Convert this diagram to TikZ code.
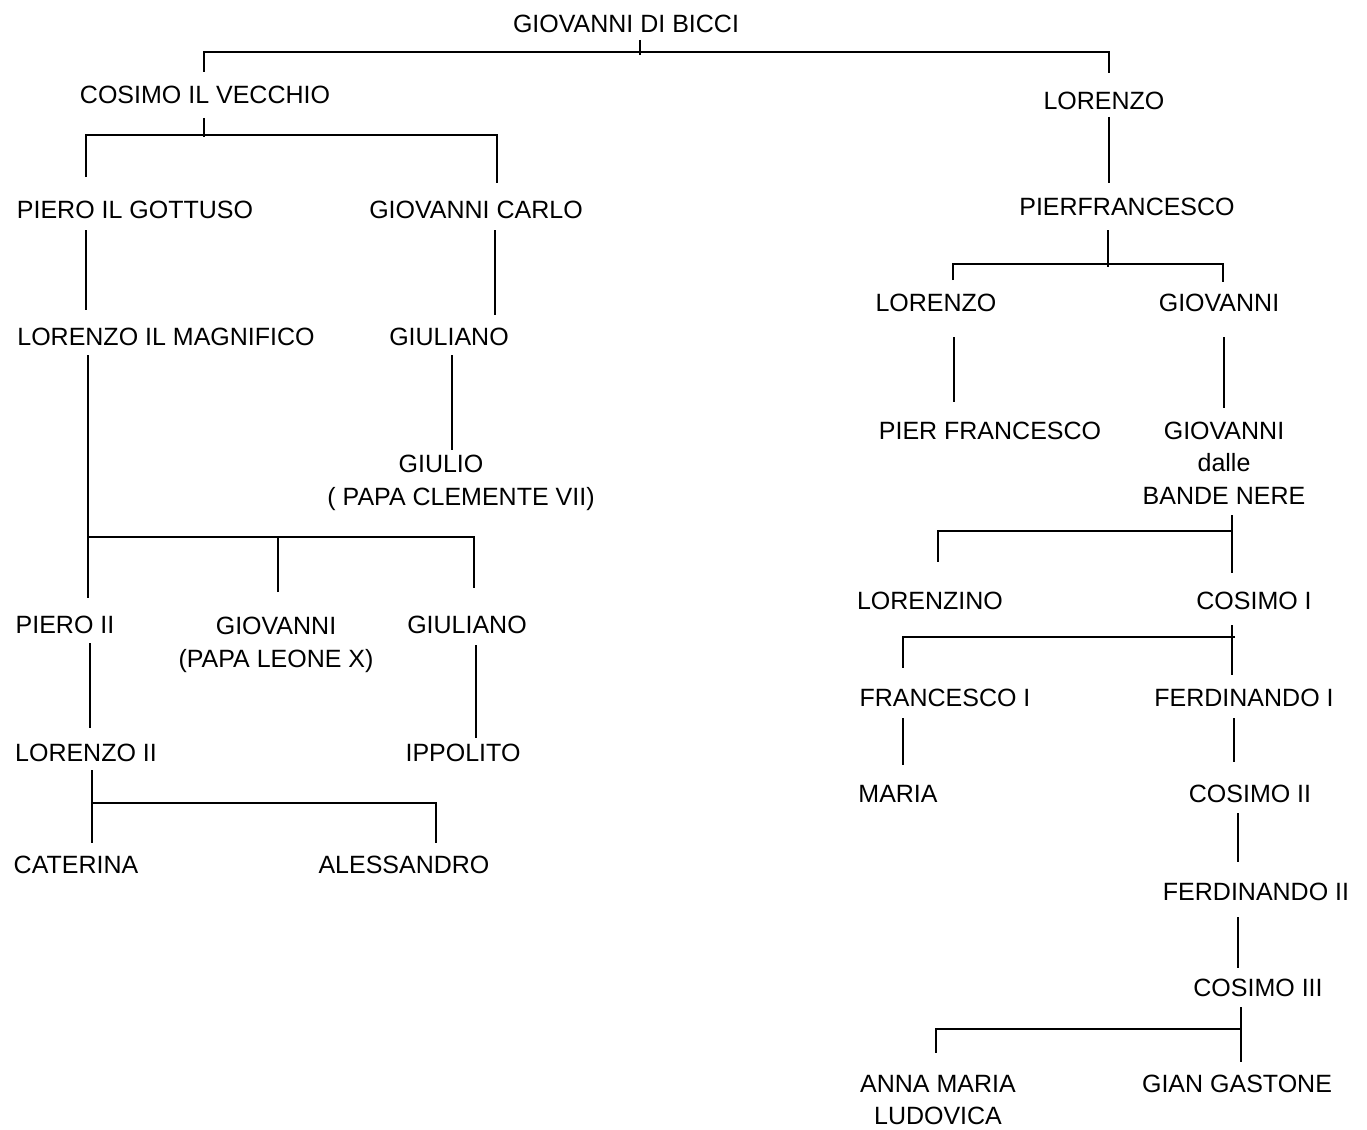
\documentclass[tikz,border=0pt]{standalone}
\usepackage{fontspec}
\setmainfont{Liberation Sans}
\begin{document}
\begin{tikzpicture}[x=1pt,y=-1pt,
  tx/.style={inner sep=0pt, text height=18pt, text depth=0pt, font=\fontsize{25}{33}\selectfont},
  ml/.style={inner sep=0pt, align=center, font=\fontsize{25}{32.5}\selectfont},
  ln/.style={line width=1.6pt}]
\path[use as bounding box, fill=white] (0,0) rectangle (1367,1129);

% left branch
\node[tx] (gdb) at (626,24) {GIOVANNI DI BICCI};
\node[tx] (cv) at (205,95) {COSIMO IL VECCHIO};
\node[tx] (lor1) at (1104,101) {LORENZO};
\node[tx] (pg) at (135,209) {PIERO IL GOTTUSO};
\node[tx] (gc) at (476,209) {GIOVANNI CARLO};
\node[tx] (lm) at (166,336) {LORENZO IL MAGNIFICO};
\node[tx] (giu1) at (449,336) {GIULIANO};
\node[ml] (giulio) at (461,483) {GIULIO\hspace*{40pt}\\( PAPA CLEMENTE VII)};
\node[tx] (p2) at (65,624) {PIERO II};
\node[ml] (leo) at (276,645) {GIOVANNI\\(PAPA LEONE X)};
\node[tx] (giu2) at (467,624) {GIULIANO};
\node[tx] (l2) at (86,752) {LORENZO II};
\node[tx] (ipp) at (463,752) {IPPOLITO};
\node[tx] (cat) at (76,864) {CATERINA};
\node[tx] (ale) at (404,864) {ALESSANDRO};

% right branch
\node[tx] (pf) at (1127,206) {PIERFRANCESCO};
\node[tx] (lor2) at (936,302) {LORENZO};
\node[tx] (gio1) at (1219,302) {GIOVANNI};
\node[tx] (pfr) at (990,430) {PIER FRANCESCO};
\node[ml] (gio2) at (1224,463) {GIOVANNI\\dalle\\BANDE NERE};
\node[tx] (lzn) at (930,600) {LORENZINO};
\node[tx] (cos1) at (1254,600) {COSIMO I};
\node[tx] (fra) at (945,697) {FRANCESCO I};
\node[tx] (fer1) at (1244,697) {FERDINANDO I};
\node[tx] (mar) at (898,793) {MARIA};
\node[tx] (cos2) at (1250,793) {COSIMO II};
\node[tx] (fer2) at (1256,891) {FERDINANDO II};
\node[tx] (cos3) at (1258,987) {COSIMO III};
\node[ml] (anna) at (938,1100) {ANNA MARIA\\LUDOVICA};
\node[tx] (gian) at (1237,1083) {GIAN GASTONE};

% junction points on the bars
\coordinate (bgdb) at (640,52);
\coordinate (bcv) at (204,135);
\coordinate (blm) at (88,537);
\coordinate (bleo) at (278,537);
\coordinate (bl2) at (92,803);
\coordinate (bpf) at (1108,264);
\coordinate (bbn) at (1232,531);
\coordinate (bc1) at (1235,637);
\coordinate (bc3) at (1241,1029);

% connectors
\draw[ln] ([shift={(14,16)}]gdb.center) -- ([shift={(0,3)}]bgdb);
\draw[ln] ([shift={(-1,-23)}]cv.center) |- (bgdb) -| ([shift={(5,-28)}]lor1.center);

\draw[ln] ([shift={(-1,23)}]cv.center) -- ([shift={(0,2)}]bcv);
\draw[ln] ([shift={(-49,-32)}]pg.center) |- (bcv) -| ([shift={(21,-26)}]gc.center);

\draw[ln] ([shift={(-49,21)}]pg.center) -- ([shift={(-80,-26)}]lm.center);
\draw[ln] ([shift={(19,21)}]gc.center) -- ([shift={(46,-21)}]giu1.center);
\draw[ln] ([shift={(3,19)}]giu1.center) -- ([shift={(-9,-33)}]giulio.center);

\draw[ln] ([shift={(-78,19)}]lm.center) -- ([shift={(23,-26)}]p2.center);
\draw[ln] (blm) -| ([shift={(7,-36)}]giu2.center);
\draw[ln] ([shift={(2,-53)}]leo.center) -- (bleo);

\draw[ln] ([shift={(25,19)}]p2.center) -- ([shift={(4,-24)}]l2.center);
\draw[ln] ([shift={(9,21)}]giu2.center) -- ([shift={(13,-14)}]ipp.center);

\draw[ln] ([shift={(6,18)}]l2.center) -- ([shift={(16,-21)}]cat.center);
\draw[ln] (bl2) -| ([shift={(32,-21)}]ale.center);

\draw[ln] ([shift={(5,16)}]lor1.center) -- ([shift={(-18,-23)}]pf.center);
\draw[ln] ([shift={(-19,24)}]pf.center) -- ([shift={(0,3)}]bpf);
\draw[ln] ([shift={(17,-22)}]lor2.center) |- (bpf) -| ([shift={(4,-20)}]gio1.center);

\draw[ln] ([shift={(18,35)}]lor2.center) -- ([shift={(-36,-28)}]pfr.center);
\draw[ln] ([shift={(5,35)}]gio1.center) -- ([shift={(0,-55)}]gio2.center);

\draw[ln] ([shift={(8,52)}]gio2.center) -- ([shift={(-22,-27)}]cos1.center);
\draw[ln] (bbn) -| ([shift={(8,-38)}]lzn.center);

\draw[ln] ([shift={(-22,25)}]cos1.center) -- ([shift={(-12,-22)}]fer1.center);
\draw[ln] (bc1) -| ([shift={(-42,-29)}]fra.center);

\draw[ln] ([shift={(-42,21)}]fra.center) -- ([shift={(5,-28)}]mar.center);
\draw[ln] ([shift={(-10,21)}]fer1.center) -- ([shift={(-16,-31)}]cos2.center);
\draw[ln] ([shift={(-12,20)}]cos2.center) -- ([shift={(-18,-29)}]fer2.center);
\draw[ln] ([shift={(-18,26)}]fer2.center) -- ([shift={(-20,-19)}]cos3.center);

\draw[ln] ([shift={(-17,20)}]cos3.center) -- ([shift={(4,-21)}]gian.center);
\draw[ln] (bc3) -| ([shift={(-2,-47)}]anna.center);
\end{tikzpicture}
\end{document}
